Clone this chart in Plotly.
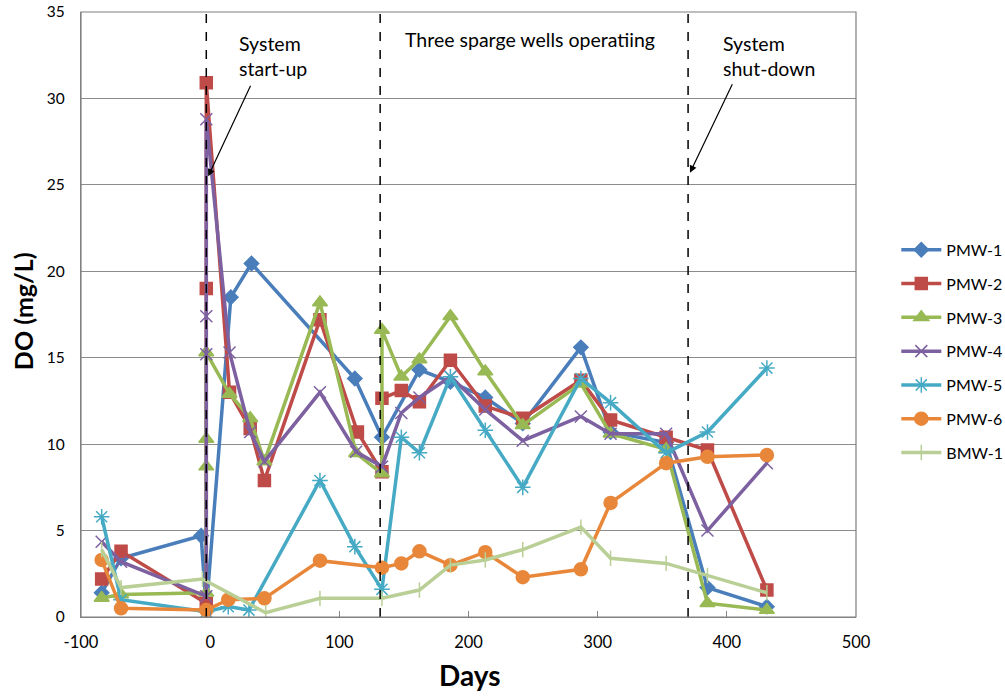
import plotly.graph_objects as go

# ---- data ----
series_names = ["PMW-1", "PMW-2", "PMW-3", "PMW-4", "PMW-5", "PMW-6", "BMW-1"]

pmw1_days = [-84, -69, -7, -3, 16, 32, 112, 133, 162, 186, 213, 242, 287, 310, 353, 385, 431]
pmw1_do = [1.4, 3.4, 4.7, 0.4, 18.5, 20.45, 13.8, 10.4, 14.3, 13.6, 12.7, 11.2, 15.6, 10.7, 10.1, 1.7, 0.6]

pmw2_days = [-84, -69, -3, -3, -3, 15, 31, 42, 85, 114, 133, 133, 148, 162, 186, 213, 242, 287, 310, 353, 385, 431]
pmw2_do = [2.2, 3.8, 0.8, 19.0, 30.9, 13.0, 10.9, 7.9, 17.2, 10.7, 8.4, 12.65, 13.1, 12.45, 14.85, 12.2, 11.5, 13.7, 11.4, 10.4, 9.66, 1.56]

pmw3_days = [-84, -69, -3, -3, -3, -3, 15, 31, 42, 85, 113, 133, 133, 148, 162, 186, 213, 242, 287, 310, 353, 385, 431]
pmw3_do = [1.1, 1.3, 1.4, 8.7, 10.3, 15.3, 12.9, 11.5, 9.0, 18.2, 9.47, 8.3, 16.6, 13.9, 14.9, 17.4, 14.2, 11.1, 13.5, 10.6, 9.7, 0.8, 0.4]

pmw4_days = [-84, -69, -3, -3, -3, -3, 15, 31, 42, 85, 113, 133, 148, 162, 186, 213, 242, 287, 310, 353, 385, 431]
pmw4_do = [4.35, 3.2, 1.2, 15.2, 17.4, 28.8, 15.3, 10.7, 9.0, 13.0, 9.56, 8.7, 11.8, 12.7, 13.9, 12.0, 10.2, 11.6, 10.6, 10.6, 5.0, 8.9]

pmw5_days = [-84, -69, -3, 14, 30, 85, 112, 133, 148, 162, 186, 213, 242, 287, 310, 353, 385, 431]
pmw5_do = [5.8, 1.0, 0.3, 0.6, 0.4, 7.9, 4.07, 1.6, 10.4, 9.5, 13.9, 10.8, 7.5, 13.8, 12.4, 9.5, 10.7, 14.4]

pmw6_days = [-84, -69, -3, 14, 42, 85, 133, 148, 162, 186, 213, 242, 287, 310, 353, 385, 431]
pmw6_do = [3.3, 0.5, 0.4, 1.0, 1.08, 3.26, 2.85, 3.1, 3.8, 3.0, 3.75, 2.3, 2.76, 6.6, 8.9, 9.27, 9.37]

bmw1_days = [-84, -69, -6, 43, 85, 133, 162, 186, 213, 242, 287, 310, 353, 385, 431]
bmw1_do = [3.9, 1.7, 2.2, 0.25, 1.08, 1.08, 1.56, 3.0, 3.3, 3.9, 5.2, 3.4, 3.1, 2.4, 1.4]

event_days = [-3, 131.6, 370]
x_ticks = [-100, 0, 100, 200, 300, 400, 500]
y_ticks = [0, 5, 10, 15, 20, 25, 30, 35]

# ---- styles ----
colors = ["#4A7EBB", "#BE4B48", "#98B954", "#7D60A0", "#46AAC5", "#E8873A", "#B9CF96"]
symbols = ["diamond", "square", "triangle-up", "x-thin-open", "asterisk-open", "circle", "line-ns-open"]
msizes = [11, 12, 13, 12, 13, 13, 11]

all_days = [pmw1_days, pmw2_days, pmw3_days, pmw4_days, pmw5_days, pmw6_days, bmw1_days]
all_do = [pmw1_do, pmw2_do, pmw3_do, pmw4_do, pmw5_do, pmw6_do, bmw1_do]

FONT = "Lato, Carlito, 'Open Sans', sans-serif"

fig = go.Figure()
for i, name in enumerate(series_names):
    fig.add_trace(go.Scatter(
        x=all_days[i], y=all_do[i], name=name, mode="lines+markers",
        legendgroup=name,
        line=dict(color=colors[i], width=3.5),
        marker=dict(symbol=symbols[i], size=msizes[i], color=colors[i],
                    line=dict(color=colors[i], width=1.5)),
    ))

shapes = []
for d in event_days:
    shapes.append(dict(type="line", xref="x", yref="y", x0=d, x1=d, y0=0, y1=35,
                       line=dict(color="black", width=1.5, dash="dash")))
# plot frame
shapes.append(dict(type="rect", xref="paper", yref="paper", x0=0, x1=1, y0=0, y1=1,
                   line=dict(color="#7f7f7f", width=1.2), layer="above"))

annotations = [
    dict(xref="paper", yref="paper", x=0.201, y=0.928, xanchor="left", yanchor="middle",
         text="System<br>start-up", showarrow=False, align="left",
         font=dict(family=FONT, size=19.5, color="black")),
    dict(xref="paper", yref="paper", x=0.415, y=0.955, xanchor="left", yanchor="middle",
         text="Three sparge wells operatiing", showarrow=False,
         font=dict(family=FONT, size=19.5, color="black")),
    dict(xref="paper", yref="paper", x=0.826, y=0.928, xanchor="left", yanchor="middle",
         text="System<br>shut-down", showarrow=False, align="left",
         font=dict(family=FONT, size=19.5, color="black")),
    dict(xref="x", yref="y", x=-1.5, y=25.5, text="", showarrow=True,
         ax=43, ay=-92, arrowhead=2, arrowsize=1.2, arrowwidth=1.2, arrowcolor="black"),
    dict(xref="x", yref="y", x=371.5, y=25.7, text="", showarrow=True,
         ax=43, ay=-90, arrowhead=2, arrowsize=1.2, arrowwidth=1.2, arrowcolor="black"),
    # axis titles
    dict(xref="paper", yref="paper", x=-0.074, y=0.505, xanchor="center", yanchor="middle",
         text="<b>DO (mg/L)</b>", showarrow=False, textangle=-90,
         font=dict(family=FONT, size=25, color="black")),
    dict(xref="paper", yref="paper", x=0.502, y=-0.096, xanchor="center", yanchor="middle",
         text="<b>Days</b>", showarrow=False,
         font=dict(family=FONT, size=28, color="black")),
]

fig.update_layout(
    width=1005, height=696,
    margin=dict(l=81, r=149, t=12, b=79, autoexpand=False),
    paper_bgcolor="white", plot_bgcolor="white",
    font=dict(family=FONT, size=15, color="black"),
    shapes=shapes, annotations=annotations,
    showlegend=True,
    legend=dict(x=1.052, y=0.635, xanchor="left", yanchor="top",
                font=dict(family=FONT, size=16, color="black"),
                tracegroupgap=10, itemwidth=40, bgcolor="rgba(0,0,0,0)"),
    xaxis=dict(range=[-100, 500], tickvals=x_ticks, ticktext=[str(v) for v in x_ticks],
               showgrid=False, zeroline=False, automargin=False,
               showline=True, linecolor="#868686", linewidth=1.2,
               ticks="inside", ticklen=6, tickcolor="#868686", ticklabelstandoff=10,
               tickfont=dict(family=FONT, size=16.5)),
    yaxis=dict(range=[0, 35], tickvals=y_ticks, showgrid=True, gridcolor="#8c8c8c",
               gridwidth=1, zeroline=False, showline=True, linecolor="#868686",
               linewidth=1.2, ticks="", automargin=False, ticklabelstandoff=12,
               tickfont=dict(family=FONT, size=15.5)),
)

fig.write_html("out.html", config={"displayModeBar": False},
               post_script="document.body.style.margin='0px';document.body.style.overflow='hidden';")
